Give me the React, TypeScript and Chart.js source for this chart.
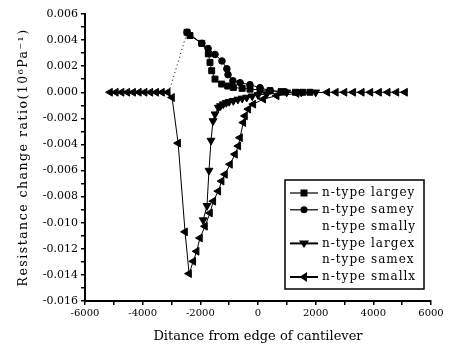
import React, { useEffect, useRef } from 'react';
import { Chart, registerables } from 'chart.js';

Chart.register(...registerables);

const FONT = 'DejaVu Serif';

// n-type largey (squares)
const largeyX = [-2460, -2360, -1950, -1723, -1665, -1606, -1491, -1260, -1050, -856, -550, -277, 70, 416, 800, 1300, 1550, 1800];
const largeyY = [0.0046, 0.00435, 0.00375, 0.00294, 0.00229, 0.00165, 0.00101, 0.00063, 0.00048, 0.00037, 0.0003, 0.00024, 0.00018, 0.00012, 0.00005, 0, 0, 0];

// n-type samey (circles)
const sameyX = [-2460, -1950, -1730, -1490, -1250, -1080, -1040, -870, -620, -280, 70, 420, 940];
const sameyY = [0.0046, 0.00375, 0.00335, 0.0029, 0.0024, 0.0018, 0.00135, 0.00088, 0.00073, 0.00058, 0.00035, 0.00012, 0.00004];

// n-type smally (dotted, no marker)
const smallyX = [-3050, -2460];
const smallyY = [0.0003, 0.0046];

// n-type largex (down triangles)
const largexX = [-1900, -1770, -1700, -1630, -1560, -1491, -1376, -1300, -1203, -1100, -1000, -856, -700, -550, -393, -200, 0, 301, 995, 1500, 2000];
const largexY = [-0.0098, -0.0087, -0.006, -0.0037, -0.0022, -0.00168, -0.00117, -0.00105, -0.00091, -0.0008, -0.00072, -0.00065, -0.00055, -0.00047, -0.0004, -0.0003, -0.0002, -0.00014, 0, 0, 0];

// n-type samex (no visible marks)
const samexX: number[] = [];
const samexY: number[] = [];

// n-type smallx (left triangles)
const smallxX = [-5130, -4930, -4730, -4530, -4330, -4130, -3930, -3730, -3530, -3330, -3130, -2980, -2770, -2530, -2390, -2243, -2127, -2012, -1838, -1665, -1549, -1376, -1260, -1145, -971, -798, -682, -624, -509, -451, -335, -162, 184, 648, 1342, 2400, 2700, 3000, 3300, 3600, 3900, 4200, 4500, 4800, 5100];
const smallxY = [0, 0, 0, 0, 0, 0, 0, 0, 0, 0, 0, -0.0004, -0.0039, -0.0107, -0.0139, -0.01296, -0.01219, -0.01117, -0.01027, -0.00925, -0.00835, -0.00758, -0.00681, -0.00629, -0.00552, -0.00475, -0.00412, -0.00348, -0.00232, -0.00181, -0.00129, -0.00091, -0.00052, -0.00027, -0.00009, 0, 0, 0, 0, 0, 0, 0, 0, 0, 0];

const seriesLabels = ['n-type largey', 'n-type samey', 'n-type smally', 'n-type largex', 'n-type samex', 'n-type smallx'];
const seriesMarkers = ['rect', 'circle', 'none', 'down', 'none', 'left'];

const xMin = -6000, xMax = 6000, xStep = 1000, xLabelStep = 2000;
const yMin = -0.016, yMax = 0.006, yStep = 0.001;

const yTitle = 'Resistance change ratio(10\u2076Pa\u207B\u00B9)';
const xTitle = 'Ditance from edge of cantilever';

function pts(xs: number[], ys: number[]) {
  return xs.map((x, i) => ({ x, y: ys[i] }));
}

function drawMarker(ctx: CanvasRenderingContext2D, kind: string, cx: number, cy: number) {
  ctx.beginPath();
  if (kind === 'rect') {
    ctx.rect(cx - 3.5, cy - 3.5, 7, 7);
  } else if (kind === 'circle') {
    ctx.arc(cx, cy, 3.5, 0, Math.PI * 2);
  } else if (kind === 'down') {
    ctx.moveTo(cx - 5, cy - 3);
    ctx.lineTo(cx + 5, cy - 3);
    ctx.lineTo(cx, cy + 4.5);
    ctx.closePath();
  } else if (kind === 'left') {
    ctx.moveTo(cx - 4.5, cy);
    ctx.lineTo(cx + 3, cy - 5);
    ctx.lineTo(cx + 3, cy + 5);
    ctx.closePath();
  } else {
    return;
  }
  ctx.fill();
}

const boxLegend = {
  id: 'boxLegend',
  afterDraw(chart: any) {
    const ctx: any = chart.ctx;
    const left = 285, top = 180, w = 139, h = 109;
    ctx.save();
    ctx.fillStyle = '#fff';
    ctx.fillRect(left, top, w, h);
    ctx.strokeStyle = '#000';
    ctx.lineWidth = 1.5;
    ctx.strokeRect(left, top, w, h);
    ctx.fillStyle = '#000';
    ctx.font = `12px "${FONT}"`;
    ctx.letterSpacing = '1px';
    ctx.textBaseline = 'middle';
    ctx.textAlign = 'left';
    seriesLabels.forEach((label, i) => {
      const cy = top + 13 + i * 16.8;
      const m = seriesMarkers[i];
      if (m !== 'none') {
        ctx.beginPath();
        ctx.lineWidth = m === 'down' || m === 'left' ? 2 : 1.2;
        ctx.moveTo(290, cy);
        ctx.lineTo(318, cy);
        ctx.stroke();
        drawMarker(ctx, m, 304, cy);
      }
      ctx.fillText(label, 322, cy);
    });
    ctx.letterSpacing = '0px';
    ctx.restore();
  },
};

const yTitlePlugin = {
  id: 'yTitleSpaced',
  afterDraw(chart: any) {
    const ctx: any = chart.ctx;
    const area = chart.chartArea;
    ctx.save();
    ctx.translate(24, (area.top + area.bottom) / 2);
    ctx.rotate(-Math.PI / 2);
    ctx.fillStyle = '#000';
    ctx.font = `12.5px "${FONT}"`;
    ctx.letterSpacing = '1.5px';
    ctx.textAlign = 'center';
    ctx.textBaseline = 'middle';
    ctx.fillText(yTitle, 0, 0);
    ctx.letterSpacing = '0px';
    ctx.restore();
  },
};

export default function App() {
  const ref = useRef<HTMLCanvasElement | null>(null);
  useEffect(() => {
    if (!ref.current) return;
    const base = {
      borderColor: '#000',
      backgroundColor: '#000',
      pointBorderColor: '#000',
      pointBackgroundColor: '#000',
      borderWidth: 1,
      showLine: true,
      tension: 0,
    };
    const chart = new Chart(ref.current, {
      type: 'scatter',
      data: {
        datasets: [
          { ...base, label: seriesLabels[0], data: pts(largeyX, largeyY), pointStyle: 'rect', pointRadius: 4.2 },
          { ...base, label: seriesLabels[1], data: pts(sameyX, sameyY), pointStyle: 'circle', pointRadius: 3.3 },
          { ...base, label: seriesLabels[2], data: pts(smallyX, smallyY), pointRadius: 0, borderDash: [1, 3] },
          { ...base, label: seriesLabels[3], data: pts(largexX, largexY), pointStyle: 'triangle', rotation: 180, pointRadius: 4.5 },
          { ...base, label: seriesLabels[4], data: pts(samexX, samexY), pointRadius: 0 },
          { ...base, label: seriesLabels[5], data: pts(smallxX, smallxY), pointStyle: 'triangle', rotation: -90, pointRadius: 4.5 },
        ],
      },
      options: {
        animation: false,
        responsive: false,
        devicePixelRatio: 1,
        layout: { padding: { top: 14, right: 18, left: 0, bottom: 0 } },
        plugins: { legend: { display: false }, tooltip: { enabled: false } },
        elements: { point: { borderWidth: 0 } },
        scales: {
          x: {
            type: 'linear',
            min: xMin,
            max: xMax,
            afterFit: (s: any) => { s.height = 46; },
            border: { display: true, color: '#000', width: 2 },
            grid: { display: true, drawOnChartArea: false, drawTicks: true, tickLength: 4, color: '#000', lineWidth: 1.5 },
            ticks: {
              stepSize: xStep,
              autoSkip: false,
              maxRotation: 0,
              padding: 2,
              color: '#000',
              font: { family: FONT, size: 10 },
              callback: (v: any) => (Math.round(v) % xLabelStep === 0 ? String(v) : ''),
            },
            title: { display: true, text: xTitle, color: '#000', font: { family: FONT, size: 13 }, padding: { top: 0, bottom: 3 } },
          },
          y: {
            type: 'linear',
            min: yMin,
            max: yMax,
            afterFit: (s: any) => { s.width = 85; },
            border: { display: true, color: '#000', width: 2 },
            grid: { display: true, drawOnChartArea: false, drawTicks: true, tickLength: 4, color: '#000', lineWidth: 1.5 },
            ticks: {
              stepSize: yStep,
              autoSkip: false,
              padding: 3,
              color: '#000',
              font: { family: FONT, size: 11 },
              callback: (v: any) => {
                const k = Math.round(Number(v) * 1000);
                return k % 2 === 0 ? (k / 1000).toFixed(3) : '';
              },
            },
            title: { display: false },
          },
        },
      },
      plugins: [boxLegend, yTitlePlugin],
    } as any);
    return () => chart.destroy();
  }, []);
  return (
    <div style={{ position: 'fixed', left: 0, top: 0, width: 449, height: 347, background: '#fff' }}>
      <canvas ref={ref} width={449} height={347} style={{ display: 'block', width: 449, height: 347 }} />
    </div>
  );
}
